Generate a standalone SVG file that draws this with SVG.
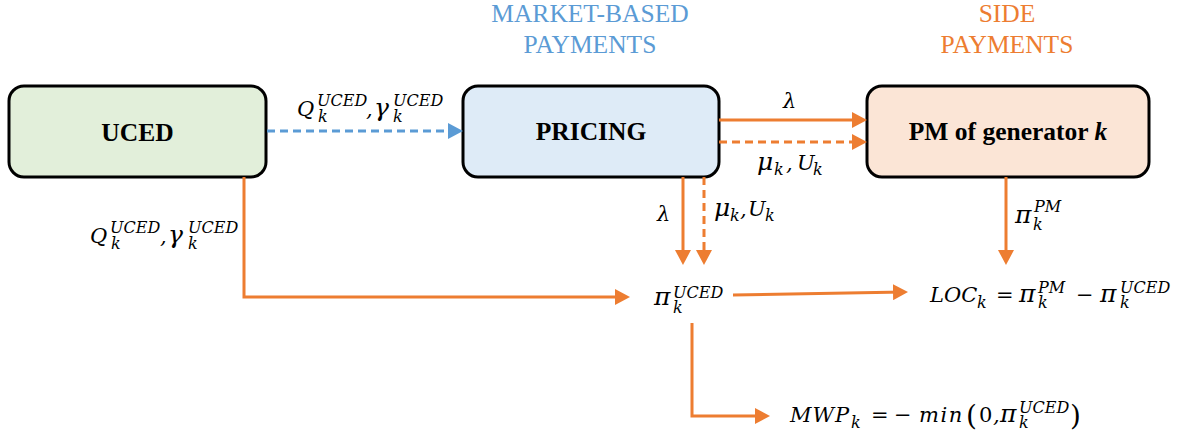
<svg xmlns="http://www.w3.org/2000/svg" width="1179" height="436" viewBox="0 0 1179 436">
<style>
.box{stroke:#000;stroke-width:3}
.bl{font-weight:bold;font-size:25.5px;fill:#000;text-anchor:middle}
.hd{font-size:25.5px;text-anchor:middle}
.m{font-style:italic;font-size:21px;fill:#000}
.s{font-size:16px}
.g{font-size:25px}
.u{font-style:normal}
.or{stroke:#ED7D31;stroke-width:3;fill:none}
.bu{stroke:#5B9BD5;stroke-width:3;fill:none}
.dash{stroke-dasharray:8 5}
</style>
<defs>
<marker id="ao" viewBox="0 0 15 16" refX="11" refY="8" markerWidth="15" markerHeight="16" markerUnits="userSpaceOnUse" orient="auto">
<path d="M0,0 L15,8 L0,16 z" fill="#ED7D31"/>
</marker>
<marker id="ab" viewBox="0 0 15 16" refX="11" refY="8" markerWidth="15" markerHeight="16" markerUnits="userSpaceOnUse" orient="auto">
<path d="M0,0 L15,8 L0,16 z" fill="#5B9BD5"/>
</marker>
</defs>
<rect width="1179" height="436" fill="#fff"/>

<g id="headers" font-family="'Liberation Serif', 'Times New Roman', 'DejaVu Serif', serif">
<text class="hd" x="590" y="22" fill="#5B9BD5">MARKET-BASED</text>
<text class="hd" x="590" y="53" fill="#5B9BD5">PAYMENTS</text>
<text class="hd" x="1007" y="22" fill="#ED7D31">SIDE</text>
<text class="hd" x="1007" y="53" fill="#ED7D31">PAYMENTS</text>
</g>

<g id="uced" font-family="'Liberation Serif', 'Times New Roman', 'DejaVu Serif', serif">
<rect class="box" x="9" y="86" width="257" height="91" rx="15" fill="#E2EFDA"/>
<text class="bl" x="137.5" y="141">UCED</text>
</g>
<g id="pricing" font-family="'Liberation Serif', 'Times New Roman', 'DejaVu Serif', serif">
<rect class="box" x="463" y="86" width="256" height="91" rx="15" fill="#DEEBF7"/>
<text class="bl" x="591" y="140">PRICING</text>
</g>
<g id="pm" font-family="'Liberation Serif', 'Times New Roman', 'DejaVu Serif', serif">
<rect class="box" x="867" y="86" width="282" height="91" rx="15" fill="#FBE5D6"/>
<text class="bl" x="1008" y="140">PM of generator <tspan font-style="italic">k</tspan></text>
</g>

<g id="connectors">
<path class="bu dash" d="M267,131 H459" marker-end="url(#ab)"/>
<path class="or" d="M719,120 H863" marker-end="url(#ao)"/>
<path class="or dash" d="M719,142 H863" marker-end="url(#ao)"/>
<path class="or" d="M683,177 V261" marker-end="url(#ao)"/>
<path class="or dash" d="M704,177 V261" marker-end="url(#ao)"/>
<path class="or" d="M244,177 V297 H626" marker-end="url(#ao)"/>
<path class="or" d="M733,295 L904,292" marker-end="url(#ao)"/>
<path class="or" d="M1006,177 V261" marker-end="url(#ao)"/>
<path class="or" d="M692,323 V416 H766" marker-end="url(#ao)"/>
</g>

<g id="labels" font-family="'DejaVu Serif', 'Liberation Serif', 'Noto Serif', serif">
<text class="m"><tspan x="297" y="116">Q</tspan><tspan class="s" x="317" y="106">UCED</tspan><tspan class="s" x="318" y="122">k</tspan><tspan x="366" y="116">,</tspan><tspan class="g" x="374" y="116">γ</tspan><tspan class="s" x="393" y="106">UCED</tspan><tspan class="s" x="393" y="122">k</tspan></text>
<text class="m"><tspan x="90" y="243">Q</tspan><tspan class="s" x="110" y="233">UCED</tspan><tspan class="s" x="111" y="249">k</tspan><tspan x="160" y="243">,</tspan><tspan class="g" x="168" y="243">γ</tspan><tspan class="s" x="188" y="233">UCED</tspan><tspan class="s" x="188" y="249">k</tspan></text>
<text class="m" x="783" y="108">λ</text>
<text class="m"><tspan class="g" x="757" y="170">μ</tspan><tspan class="s" x="774" y="175">k</tspan><tspan x="786" y="170">,</tspan><tspan x="797" y="170">U</tspan><tspan class="s" x="813" y="175">k</tspan></text>
<text class="m" x="657" y="221">λ</text>
<text class="m"><tspan class="g" x="714" y="216">μ</tspan><tspan class="s" x="730" y="221">k</tspan><tspan x="740" y="216">,</tspan><tspan x="748" y="216">U</tspan><tspan class="s" x="765" y="221">k</tspan></text>
<text class="m"><tspan class="g" x="1015" y="223">π</tspan><tspan class="s" x="1034" y="212">PM</tspan><tspan class="s" x="1033" y="230">k</tspan></text>
<text class="m"><tspan class="g" x="654" y="305">π</tspan><tspan class="s" x="673" y="298">UCED</tspan><tspan class="s" x="673" y="313">k</tspan></text>
<text class="m"><tspan x="930" y="302">LOC</tspan><tspan class="s" x="977" y="308">k</tspan><tspan class="u" x="996" y="302">=</tspan><tspan class="g" x="1019" y="302">π</tspan><tspan class="s" x="1038" y="293">PM</tspan><tspan class="s" x="1038" y="308">k</tspan><tspan class="u" x="1076" y="302">−</tspan><tspan class="g" x="1100" y="302">π</tspan><tspan class="s" x="1120" y="293">UCED</tspan><tspan class="s" x="1120" y="308">k</tspan></text>
<text class="m"><tspan x="790" y="422" letter-spacing="1">MWP</tspan><tspan class="s" x="851" y="428">k</tspan><tspan class="u" x="871" y="422">=</tspan><tspan class="u" x="894" y="422">−</tspan><tspan x="919" y="422" letter-spacing="1.5">min</tspan><tspan class="u" x="966" y="425" font-size="28">(</tspan><tspan class="u" x="979" y="422">0</tspan><tspan x="993" y="422">,</tspan><tspan class="g" x="1000" y="422">π</tspan><tspan class="s" x="1019" y="413">UCED</tspan><tspan class="s" x="1019" y="428">k</tspan><tspan class="u" x="1070" y="425" font-size="28">)</tspan></text>
</g>
</svg>
